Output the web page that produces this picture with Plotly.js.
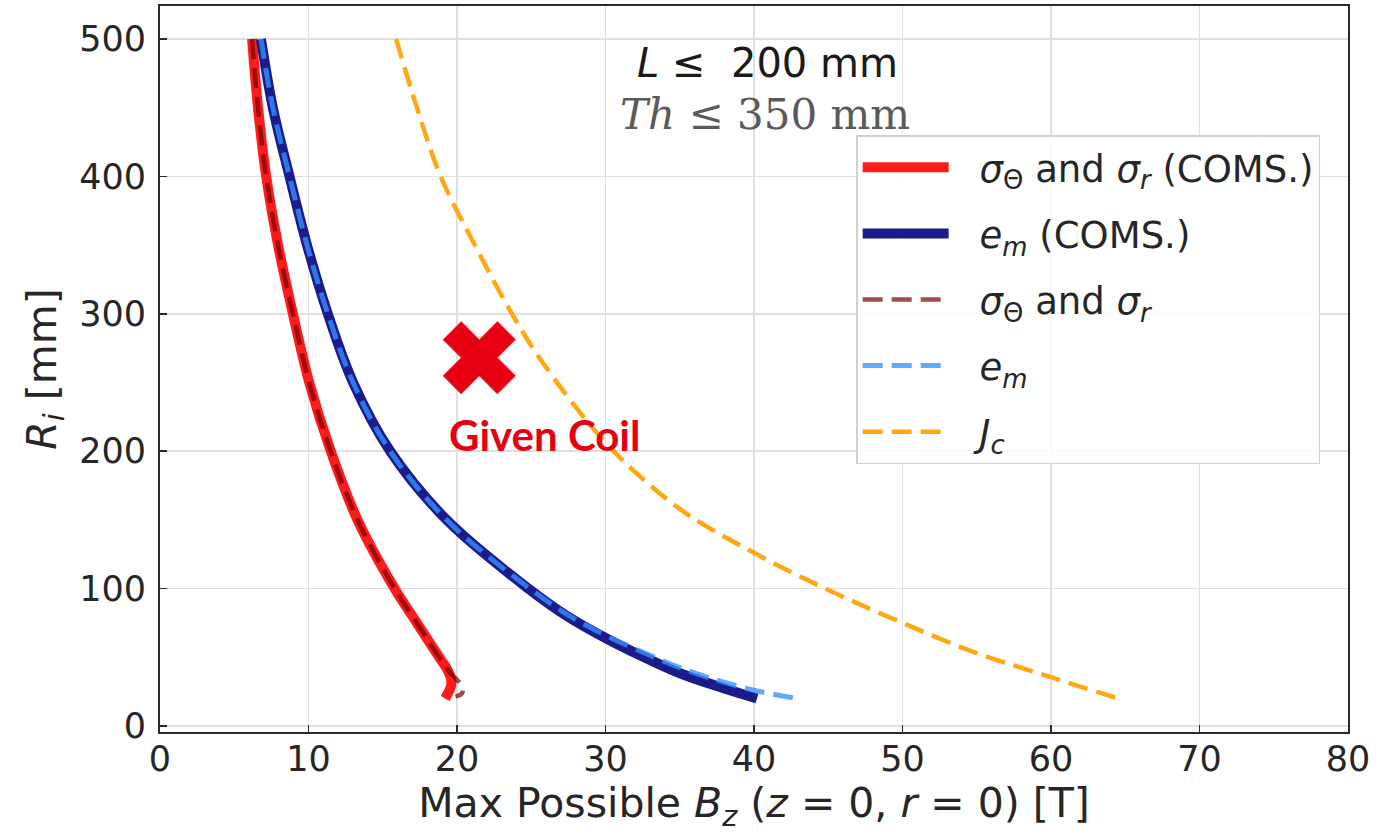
<!DOCTYPE html>
<html>
<head>
<meta charset="utf-8">
<script src="https://cdn.plot.ly/plotly-3.0.1.min.js"></script>
<style>
  html, body { margin: 0; padding: 0; background: #ffffff; }
  #chart { width: 1396px; height: 836px; }
</style>
</head>
<body>
<div id="chart"></div>
<script>
// ---- Data (x = max possible Bz [T], y = Ri [mm]) ----
const stressComsB = [6.2, 6.6, 7.15, 7.95, 8.95, 10.05, 11.5, 13.3, 15.8, 17.3, 18.8, 19.4, 19.6, 19.6, 19.4, 19.2];
const stressComsR = [500, 450, 400, 350, 300, 250, 200, 150, 100, 75, 50, 40, 34, 29, 24, 20];

const strainComsB = [6.8, 7.6, 8.72, 9.9, 11.3, 13.0, 15.5, 19.3, 24.8, 27.4, 30.0, 33.0, 35.1, 37.8, 40.2];
const strainComsR = [500, 450, 400, 350, 300, 250, 200, 150, 100, 80, 64, 48, 38, 28, 20];

const stressB = [6.2, 6.6, 7.15, 7.95, 8.95, 10.05, 11.5, 13.3, 15.8, 17.3, 18.8, 19.6, 20.15, 20.4, 20.3, 19.9];
const stressR = [500, 450, 400, 350, 300, 250, 200, 150, 100, 75, 50, 38, 31.7, 27, 23.2, 21.5];

const strainB = [6.8, 7.6, 8.72, 9.9, 11.3, 13.0, 15.5, 19.3, 24.9, 27.6, 30.2, 33.3, 35.0, 37.3, 40.0, 42.9];
const strainR = [500, 450, 400, 350, 300, 250, 200, 150, 100, 80, 65, 50, 42.5, 34, 26, 20];

const jcB = [15.9, 17.3, 18.9, 21.2, 23.7, 25.8, 30.2, 35.0, 40.0, 45.0, 50.0, 55.0, 60.0, 64.5];
const jcR = [500, 450, 400, 350, 300, 264, 204, 158, 126, 99, 75, 53, 35.5, 20];

const givenCoilB = [21.5];
const givenCoilR = [268];
const givenCoilLabel = 'Given Coil';

const seriesNames = [
  '<i>σ</i><sub>Θ</sub> and <i>σ</i><sub><i>r</i></sub> (COMS.)',
  '<i>e</i><sub><i>m</i></sub> (COMS.)',
  '<i>σ</i><sub>Θ</sub> and <i>σ</i><sub><i>r</i></sub>',
  '<i>e</i><sub><i>m</i></sub>',
  '<i>J</i><sub><i>c</i></sub>'
];

const xTicks = [0, 10, 20, 30, 40, 50, 60, 70, 80];
const yTicks = [0, 100, 200, 300, 400, 500];

const constraintLine1 = '<i>L</i> ≤  200 mm';
const constraintLine2 = '<i>Th</i> ≤ 350 mm';

// ---- Traces ----
const DASH = '20px,9px';
const PAD = '\u2002\u2009';
const SM = 1.0;
const traces = [
  { x: stressComsB, y: stressComsR, name: PAD + seriesNames[0], legendgroup: 'g1', mode: 'lines',
    line: { color: '#fd1c1c', width: 10, shape: 'spline', smoothing: SM } },
  { x: strainComsB, y: strainComsR, name: PAD + seriesNames[1], legendgroup: 'g2', mode: 'lines',
    line: { color: '#1b1b8c', width: 10, shape: 'spline', smoothing: SM } },
  { x: stressB, y: stressR, name: PAD + seriesNames[2], legendgroup: 'g3', mode: 'lines', opacity: 0.7,
    line: { color: '#7a0000', width: 4.5, dash: DASH, shape: 'spline', smoothing: SM } },
  { x: strainB, y: strainR, name: PAD + seriesNames[3], legendgroup: 'g4', mode: 'lines', opacity: 0.78,
    line: { color: '#3590ff', width: 5, dash: DASH, shape: 'spline', smoothing: SM } },
  { x: jcB, y: jcR, name: PAD + seriesNames[4], legendgroup: 'g5', mode: 'lines',
    line: { color: '#ffa814', width: 4.5, dash: DASH, shape: 'spline', smoothing: SM } },
  { x: givenCoilB, y: givenCoilR, name: givenCoilLabel, mode: 'markers', showlegend: false,
    marker: { symbol: 'x', size: 64, color: '#e60012', line: { color: '#f04050', width: 1 } } }
];

const TXT = '#262626';
const axisCommon = {
  showline: true, mirror: true, linecolor: '#2a2a2a', linewidth: 2,
  showgrid: true, gridcolor: '#e0e0e0', gridwidth: 1.5,
  zeroline: false,
  ticks: 'inside', ticklen: 7, tickwidth: 1.5, tickcolor: '#2a2a2a',
  tickfont: { family: 'DejaVu Sans', size: 35, color: TXT },
  automargin: false
};

const layout = {
  width: 1396, height: 836,
  margin: { l: 160, r: 48, t: 6, b: 104 },
  paper_bgcolor: '#ffffff', plot_bgcolor: '#ffffff',
  showlegend: true,
  hovermode: false,
  xaxis: Object.assign({}, axisCommon, {
    range: [0, 80], tickmode: 'array', tickvals: xTicks, ticktext: xTicks.map(String),
    ticklabelstandoff: -5,
    title: { text: 'Max Possible <i>B</i><sub><i>z</i></sub> (<i>z</i> = 0, <i>r</i> = 0) [T]',
             font: { family: 'DejaVu Sans', size: 41, color: TXT }, standoff: 8 }
  }),
  yaxis: Object.assign({}, axisCommon, {
    range: [-4.4, 524], tickmode: 'array', tickvals: yTicks, ticktext: yTicks.map(String),
    ticklabelstandoff: 5,
    title: { text: '<i>R</i><sub><i>i</i></sub> [mm]',
             font: { family: 'DejaVu Sans', size: 41, color: TXT }, standoff: 10 }
  }),
  legend: {
    x: 0.586, y: 0.822, xanchor: 'left', yanchor: 'top',
    bgcolor: 'rgba(255,255,255,0.85)', bordercolor: '#d0d0d0', borderwidth: 1.5,
    font: { family: 'DejaVu Sans', size: 37, color: TXT },
    itemwidth: 86, tracegroupgap: 15, traceorder: 'grouped'
  },
  annotations: [
    { xref: 'x', yref: 'y', x: 25.9, y: 212, text: '<b>' + givenCoilLabel + '</b>', showarrow: false,
      font: { family: 'Lato', size: 42, color: '#e60012' }, xanchor: 'center', yanchor: 'middle' },
    { xref: 'paper', yref: 'paper', x: 0.511, y: 0.921, text: constraintLine1, showarrow: false,
      font: { family: 'DejaVu Sans', size: 40, color: '#1a1a1a' }, xanchor: 'center', yanchor: 'middle' },
    { xref: 'paper', yref: 'paper', x: 0.509, y: 0.85, text: constraintLine2, showarrow: false,
      font: { family: 'DejaVu Serif', size: 42, color: '#5a5a5a' }, xanchor: 'center', yanchor: 'middle' }
  ]
};

Plotly.newPlot('chart', traces, layout, { displayModeBar: false, staticPlot: true });
</script>
</body>
</html>
